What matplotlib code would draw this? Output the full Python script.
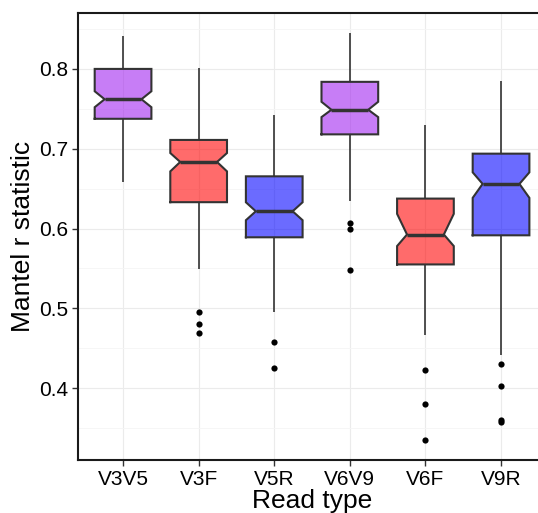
import matplotlib
matplotlib.use("Agg")
import matplotlib.pyplot as plt
from matplotlib.ticker import MultipleLocator
import numpy as np

plt.rcParams['font.family'] = ['Liberation Sans', 'DejaVu Sans']

categories = ["V3V5", "V3F", "V5R", "V6V9", "V6F", "V9R"]
fill_colors = ["#A020F0", "#FF0000", "#0000FF", "#A020F0", "#FF0000", "#0000FF"]
whisker_low = [0.658, 0.549, 0.496, 0.634, 0.466, 0.442]
q1 = [0.7375, 0.633, 0.589, 0.718, 0.555, 0.5915]
notch_low = [0.752, 0.6716, 0.6104, 0.7396, 0.578, 0.6384]
medians = [0.762, 0.6834, 0.6216, 0.7488, 0.5925, 0.6559]
notch_high = [0.772, 0.6946, 0.6329, 0.7588, 0.6184, 0.6704]
q3 = [0.800, 0.711, 0.6654, 0.7838, 0.6375, 0.6938]
whisker_high = [0.8417, 0.8017, 0.7417, 0.845, 0.730, 0.785]
outliers = [
    [],
    [0.495, 0.4804, 0.4688],
    [0.4583, 0.4246],
    [0.6066, 0.5991, 0.5479],
    [0.4229, 0.3796, 0.3354],
    [0.430, 0.4029, 0.3604, 0.3575],
]

fig = plt.figure(figsize=(5.38, 5.13), dpi=100)
ax = fig.add_axes([0.1444, 0.1033, 0.8712, 0.872])

positions = np.arange(1, len(categories) + 1)
box_w = 0.75
notch_frac = 0.65
edge = "#333333"

for i, x in enumerate(positions):
    hw = box_w / 2
    nw = hw * notch_frac
    ax.plot([x, x], [q3[i], whisker_high[i]], color=edge, lw=1.2, zorder=2, solid_capstyle="butt")
    ax.plot([x, x], [whisker_low[i], q1[i]], color=edge, lw=1.2, zorder=2, solid_capstyle="butt")
    xs = [x - hw, x + hw, x + hw, x + nw, x + hw, x + hw, x - hw, x - hw, x - nw, x - hw, x - hw]
    ys = [q1[i], q1[i], notch_low[i], medians[i], notch_high[i], q3[i], q3[i],
          notch_high[i], medians[i], notch_low[i], q1[i]]
    ax.fill(xs, ys, facecolor=fill_colors[i], alpha=0.58, edgecolor="none", zorder=3)
    ax.plot(xs, ys, color=edge, lw=1.5, zorder=4, solid_joinstyle="miter")
    ax.plot([x - nw, x + nw], [medians[i], medians[i]], color=edge, lw=2.5, zorder=5,
            solid_capstyle="butt")
    if outliers[i]:
        ax.scatter([x] * len(outliers[i]), outliers[i], s=20, color="black", zorder=5,
                   linewidths=0)

all_vals = whisker_low + whisker_high + [v for o in outliers for v in o]
lo, hi = min(all_vals), max(all_vals)
pad = (hi - lo) * 0.05
ax.set_ylim(lo - pad, hi + pad)
ax.set_xlim(0.4, len(categories) + 0.6)

ax.set_xticks(positions)
ax.set_xticklabels(categories)
ax.yaxis.set_minor_locator(MultipleLocator(0.05))
yt = np.arange(0.4, 0.81, 0.1)
ax.set_yticks(yt)
ax.set_yticklabels([f"{v:.1f}" for v in yt])

ax.grid(True, which="major", color="#EBEBEB", lw=0.8, zorder=0)
ax.grid(True, which="minor", axis="y", color="#F5F5F5", lw=0.6, zorder=0)
ax.set_axisbelow(True)

for s in ax.spines.values():
    s.set_color("#1a1a1a")
    s.set_linewidth(1.5)

ax.tick_params(axis="both", which="major", length=4, width=1.0, color="#333333",
               labelsize=15, labelcolor="black", pad=3)
ax.tick_params(axis="both", which="minor", length=0)

ax.set_xlabel("Read type", fontsize=19, labelpad=0)
ax.set_ylabel("Mantel r statistic", fontsize=19, labelpad=3)

fig.savefig("out.png", dpi=100)
